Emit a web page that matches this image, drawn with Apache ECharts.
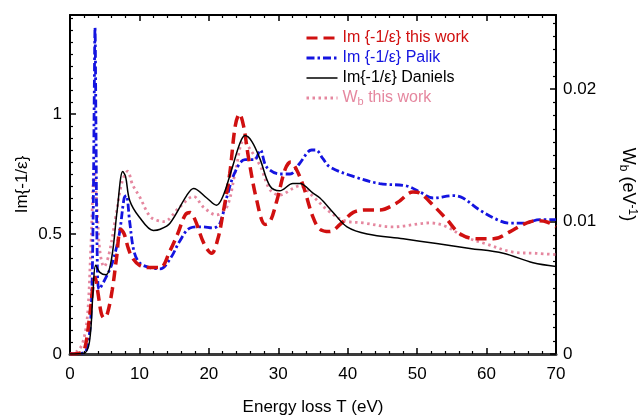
<!DOCTYPE html>
<html>
<head>
<meta charset="utf-8">
<script src="https://cdn.jsdelivr.net/npm/echarts@6/dist/echarts.min.js"></script>
<style>
  html, body { margin: 0; padding: 0; background: #fff; }
  #chart { width: 644px; height: 415px; }
</style>
</head>
<body>
<div id="chart"></div>
<script>
// Im{-1/eps} this work (red dashed)
const redT = [0, 1.5, 2.1, 2.8, 3.3, 3.6, 4.0, 4.5, 4.9, 5.4, 6.1, 6.7, 7.3, 7.8, 8.4, 9.0, 10, 11.5, 13, 14.4, 15.5, 16.6, 17.3, 18, 19.3, 20.4, 21.3, 22, 23, 23.8, 24.4, 25, 25.7, 26.9, 28.1, 28.8, 29.8, 31, 31.8, 32.6, 33.6, 35, 36, 37.4, 38.9, 40.8, 42.8, 44.6, 47.1, 49.4, 50.4, 52.3, 54.3, 56.2, 58.6, 61, 63.4, 65.3, 67.2, 68.7, 70];
const redV = [0, 0.005, 0.02, 0.15, 0.28, 0.32, 0.26, 0.17, 0.15, 0.17, 0.27, 0.40, 0.52, 0.50, 0.44, 0.40, 0.37, 0.36, 0.36, 0.43, 0.50, 0.58, 0.59, 0.56, 0.46, 0.42, 0.48, 0.58, 0.75, 0.95, 1.00, 0.95, 0.82, 0.64, 0.54, 0.55, 0.64, 0.77, 0.80, 0.77, 0.70, 0.57, 0.52, 0.51, 0.54, 0.59, 0.60, 0.60, 0.63, 0.675, 0.67, 0.62, 0.56, 0.50, 0.48, 0.48, 0.51, 0.54, 0.555, 0.55, 0.53];

// Im{-1/eps} Palik (blue dash-dot)
const blueT = [0, 2, 2.5, 3.0, 3.3, 3.5, 3.6, 3.75, 3.9, 4.2, 5.2, 6.1, 7.1, 7.8, 8.1, 8.6, 9.2, 10, 11.5, 13, 14.5, 15.8, 17.3, 19, 20.6, 21.6, 22.6, 23.8, 25.2, 26.6, 27.4, 28.3, 30.2, 31.7, 33.1, 34.8, 35.4, 36.4, 37.4, 40.8, 44.6, 48.5, 50.4, 52.3, 55.2, 56.6, 59, 61.5, 63.4, 65.3, 67.7, 70];
const blueV = [0, 0.005, 0.03, 0.15, 0.5, 1.1, 1.36, 0.9, 0.45, 0.27, 0.32, 0.38, 0.50, 0.65, 0.66, 0.55, 0.43, 0.38, 0.36, 0.355, 0.40, 0.47, 0.525, 0.53, 0.525, 0.545, 0.655, 0.76, 0.81, 0.81, 0.85, 0.78, 0.75, 0.75, 0.795, 0.85, 0.85, 0.815, 0.78, 0.74, 0.71, 0.70, 0.675, 0.65, 0.66, 0.65, 0.60, 0.56, 0.545, 0.545, 0.56, 0.56];

// Im{-1/eps} Daniels (black solid)
const blackT = [0, 2, 2.8, 3.3, 3.7, 4.3, 5.2, 6.0, 6.8, 7.6, 8.0, 8.6, 10, 12, 13, 14.4, 16.8, 17.8, 19.7, 21.1, 22, 23.3, 24.5, 25.2, 26.2, 27.4, 28.8, 30.2, 32.1, 33.1, 35, 36, 37.9, 39.9, 42.8, 48, 52.8, 57.6, 62.4, 66.7, 70];
const blackV = [0, 0.003, 0.05, 0.25, 0.37, 0.34, 0.33, 0.40, 0.60, 0.76, 0.74, 0.64, 0.57, 0.515, 0.52, 0.545, 0.66, 0.69, 0.65, 0.62, 0.655, 0.77, 0.88, 0.91, 0.885, 0.81, 0.70, 0.68, 0.71, 0.71, 0.67, 0.65, 0.59, 0.53, 0.50, 0.48, 0.46, 0.44, 0.42, 0.38, 0.365];

// W_b this work (pink dotted, right axis)
const pinkT = [0, 1.0, 1.8, 2.5, 3.0, 3.5, 3.9, 4.3, 4.9, 5.6, 6.6, 7.5, 8.3, 9.0, 10, 11.5, 12.5, 13.5, 15.8, 17.8, 19.2, 21.1, 22.6, 23.8, 25, 25.9, 27.4, 28.8, 30.2, 32.1, 33.1, 35, 37, 39.3, 42.2, 46.5, 51.9, 54.3, 56.6, 60, 63.8, 67.2, 70];
const pinkV = [0, 0.0002, 0.0008, 0.0028, 0.008, 0.0138, 0.011, 0.0078, 0.0066, 0.0075, 0.0104, 0.013, 0.0138, 0.0128, 0.0119, 0.0104, 0.0101, 0.0100, 0.0111, 0.0119, 0.0111, 0.0105, 0.0111, 0.0137, 0.0161, 0.0155, 0.0142, 0.0124, 0.0120, 0.0125, 0.0127, 0.0119, 0.0109, 0.0101, 0.0099, 0.0096, 0.0099, 0.0096, 0.0089, 0.0083, 0.0077, 0.0076, 0.0075];

const seriesNames = ["Im {-1/ε} this work", "Im {-1/ε} Palik", "Im{-1/ε} Daniels", "Wb this work"];
const seriesColors = ["#d01010", "#1414e0", "#000000", "#e5879f"];
const lineWidths = [3.5, 2.8, 1.5, 2.8];
const lineDashes = [[11, 6], [8, 3, 2.5, 3], "solid", [2.5, 3.5]];

const zip = function (xs, ys) {
  return xs.map(function (x, i) { return [x, ys[i]]; });
};

const font = "'Liberation Sans', Arial, sans-serif";
const myChart = echarts.init(document.getElementById("chart"));

const frameLine = { show: true, onZero: false, lineStyle: { color: "#000", width: 2 } };

const makeSeries = function (i, xs, ys, extra) {
  return Object.assign({
    name: seriesNames[i],
    type: "line",
    smooth: 0.35,
    symbol: "none",
    data: zip(xs, ys),
    itemStyle: { color: seriesColors[i] },
    lineStyle: { color: seriesColors[i], width: lineWidths[i], type: lineDashes[i] },
  }, extra);
};

const option = {
  animation: false,
  backgroundColor: "#fff",
  textStyle: { fontFamily: font },
  grid: { left: 70, right: 88, top: 15, bottom: 61, outerBoundsMode: "none", containLabel: false },
  legend: {
    orient: "vertical",
    left: 305,
    top: 30,
    padding: 0,
    itemWidth: 31,
    itemHeight: 14,
    itemGap: 4,
    itemStyle: { color: "transparent", borderWidth: 0, opacity: 0 },
    data: seriesNames.map(function (n, i) {
      return {
        name: n,
        textStyle: { color: seriesColors[i] },
        lineStyle: { color: seriesColors[i], width: Math.min(lineWidths[i], 3), type: lineDashes[i] },
      };
    }),
    textStyle: {
      fontSize: 16,
      fontFamily: font,
      rich: {
        n: { fontSize: 16, color: seriesColors[3], fontFamily: font },
        s: { fontSize: 11, color: seriesColors[3], verticalAlign: "bottom", padding: [8, 0, 0, 0], fontFamily: font },
      },
    },
    formatter: function (name) {
      if (name === "Wb this work") {
        return "{n|W}{s|b}{n| this work}";
      }
      return name;
    },
  },
  xAxis: [
    {
      type: "value",
      min: 0,
      max: 70,
      interval: 10,
      name: "Energy loss T (eV)",
      nameLocation: "middle",
      nameGap: 45,
      nameMoveOverlap: false,
      nameTextStyle: { fontSize: 17, color: "#000" },
      axisLine: { show: true, onZero: false, lineStyle: { color: "#3a3a3a", width: 3 } },
      axisTick: { inside: true, length: 6, lineStyle: { color: "#000", width: 1.5 } },
      minorTick: { show: true, splitNumber: 5, length: 3, lineStyle: { color: "#000", width: 1.2 } },
      axisLabel: { fontSize: 17, color: "#000", margin: 12 },
      splitLine: { show: false },
    },
    {
      type: "value",
      position: "top",
      min: 0,
      max: 70,
      interval: 10,
      axisLine: frameLine,
      axisTick: { inside: true, length: 6, lineStyle: { color: "#000", width: 1.5 } },
      minorTick: { show: true, splitNumber: 5, length: 3, lineStyle: { color: "#000", width: 1.2 } },
      axisLabel: { show: false },
      splitLine: { show: false },
    },
  ],
  yAxis: [
    {
      type: "value",
      min: 0,
      max: 1.4125,
      interval: 0.5,
      name: "Im{-1/ε}",
      nameLocation: "middle",
      nameGap: 39,
      nameMoveOverlap: false,
      nameTextStyle: { fontSize: 17, color: "#000" },
      axisLine: frameLine,
      axisTick: { inside: true, length: 6, lineStyle: { color: "#000", width: 1.5 } },
      minorTick: { show: true, splitNumber: 10, length: 3, lineStyle: { color: "#000", width: 1.2 } },
      axisLabel: {
        fontSize: 17,
        color: "#000",
        margin: 8,
        formatter: function (v) {
          return Math.abs(v * 2 - Math.round(v * 2)) < 1e-6 ? String(v) : "";
        },
      },
      splitLine: { show: false },
    },
    {
      type: "value",
      position: "right",
      min: 0,
      max: 0.0256,
      interval: 0.01,
      name: "{n|W}{s|b}{n| (eV}{p|-1}{n|)}",
      nameLocation: "middle",
      nameGap: 61,
      nameRotate: -90,
      nameMoveOverlap: false,
      nameTextStyle: {
        fontSize: 18,
        color: "#000",
        rich: {
          n: { fontSize: 18, color: "#000", fontFamily: font },
          s: { fontSize: 12, color: "#000", verticalAlign: "bottom", padding: [9, 0, 0, 0], fontFamily: font },
          p: { fontSize: 12, color: "#000", verticalAlign: "top", padding: [0, 0, 8, 0], fontFamily: font },
        },
      },
      axisLine: frameLine,
      axisTick: { inside: true, length: 6, lineStyle: { color: "#000", width: 1.5 } },
      minorTick: { show: true, splitNumber: 10, length: 3, lineStyle: { color: "#000", width: 1.2 } },
      axisLabel: {
        fontSize: 17,
        color: "#000",
        margin: 7,
        formatter: function (v) {
          if (v === 0) return "0";
          return Math.abs(v * 100 - Math.round(v * 100)) < 1e-6 ? v.toFixed(2) : "";
        },
      },
      splitLine: { show: false },
    },
  ],
  series: [
    makeSeries(0, redT, redV, { z: 4 }),
    makeSeries(1, blueT, blueV, { z: 3 }),
    makeSeries(2, blackT, blackV, { z: 5 }),
    makeSeries(3, pinkT, pinkV, { z: 2, yAxisIndex: 1 }),
  ],
};

myChart.setOption(option);
</script>
</body>
</html>
